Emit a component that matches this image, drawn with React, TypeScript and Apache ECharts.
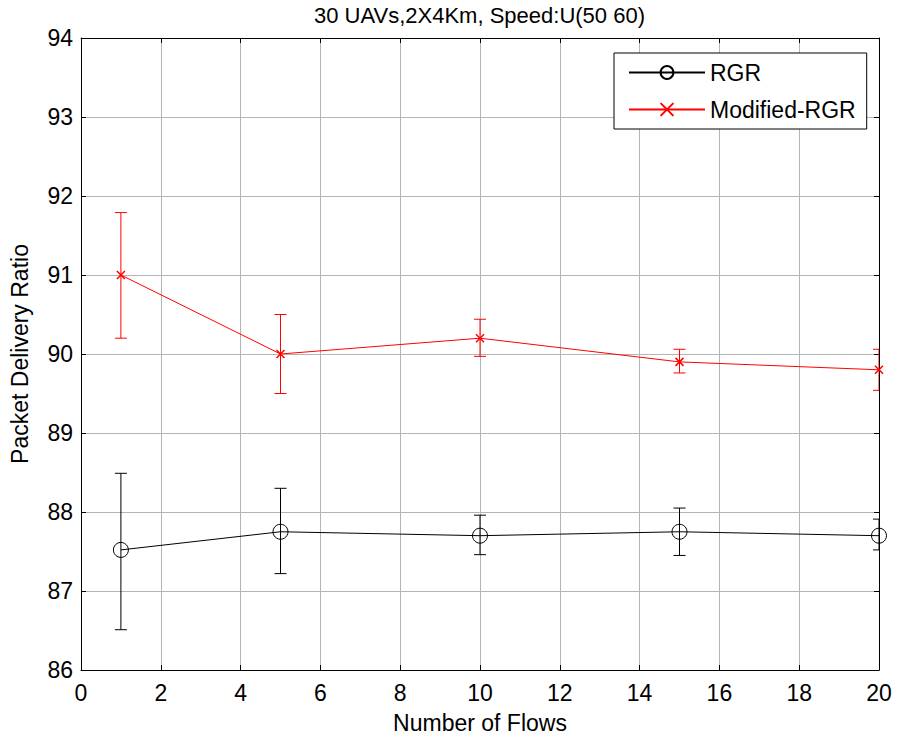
import React, { useEffect, useRef } from "react";
import * as echarts from "echarts";

const flows = [1, 5, 10, 15, 20];
const rgrMean = [87.52, 87.75, 87.7, 87.75, 87.7];
const rgrLow = [86.51, 87.22, 87.46, 87.45, 87.52];
const rgrHigh = [88.49, 88.3, 87.96, 88.05, 87.91];
const modMean = [91.0, 90.0, 90.2, 89.9, 89.8];
const modLow = [90.2, 89.5, 89.97, 89.76, 89.54];
const modHigh = [91.79, 90.5, 90.44, 90.06, 90.06];
const titleText = "30 UAVs,2X4Km, Speed:U(50 60)";

const FONT = "Liberation Sans, Arial, sans-serif";
const CROSS = "path://M0,0L10,10M10,0L0,10";

function errSeries(name: string, low: number[], high: number[], color: string) {
  return {
    type: "custom",
    name,
    clip: true,
    silent: true,
    z: 3,
    data: flows.map((x, i) => [x, low[i], high[i]]),
    renderItem: (params: any, api: any) => {
      const x = api.value(0);
      const lo = api.coord([x, api.value(1)]);
      const hi = api.coord([x, api.value(2)]);
      const w = 6;
      const st = { stroke: color, lineWidth: 1 };
      return {
        type: "group",
        children: [
          { type: "line", shape: { x1: hi[0], y1: hi[1], x2: lo[0], y2: lo[1] }, style: st },
          { type: "line", shape: { x1: hi[0] - w, y1: hi[1], x2: hi[0] + w, y2: hi[1] }, style: st },
          { type: "line", shape: { x1: lo[0] - w, y1: lo[1], x2: lo[0] + w, y2: lo[1] }, style: st },
        ],
      };
    },
  };
}

export default function App() {
  const ref = useRef<HTMLDivElement>(null);
  useEffect(() => {
    const chart = echarts.init(ref.current!, null, { renderer: "svg" });
    const gridColor = "#b4b4b4";
    chart.setOption({
      animation: false,
      backgroundColor: "#ffffff",
      graphic: [
        {
          type: "text",
          x: 479.5,
          y: 15,
          style: {
            text: titleText,
            fill: "#000",
            font: `22px ${FONT}`,
            textAlign: "center",
            textVerticalAlign: "middle",
          },
        },
      ],
      grid: { left: 80, right: 18, top: 38, bottom: 70 },
      legend: {
        orient: "vertical",
        left: 614,
        top: 53,
        data: ["RGR", "Modified-RGR"],
        itemWidth: 76,
        itemHeight: 16,
        itemGap: 14,
        padding: [8, 11, 8, 14],
        borderColor: "#000",
        borderWidth: 1,
        backgroundColor: "#fff",
        textStyle: { fontFamily: FONT, fontSize: 23, color: "#000", lineHeight: 23 },
      },
      xAxis: [
        {
          type: "value",
          min: 0,
          max: 20,
          interval: 2,
          name: "Number of Flows",
          nameLocation: "middle",
          nameGap: 41,
          nameTextStyle: { fontFamily: FONT, fontSize: 23, color: "#000" },
          axisLine: { show: true, onZero: false, lineStyle: { color: "#000", width: 1 } },
          axisTick: { show: true, inside: true, length: 5, lineStyle: { color: "#000" } },
          axisLabel: { fontFamily: FONT, fontSize: 23, color: "#000", margin: 11 },
          splitLine: { show: true, lineStyle: { color: gridColor, width: 1 } },
        },
        {
          type: "value",
          position: "top",
          min: 0,
          max: 20,
          interval: 2,
          axisLine: { show: true, onZero: false, lineStyle: { color: "#000", width: 1 } },
          axisTick: { show: true, inside: true, length: 5, lineStyle: { color: "#000" } },
          axisLabel: { show: false },
          splitLine: { show: false },
        },
      ],
      yAxis: [
        {
          type: "value",
          min: 86,
          max: 94,
          interval: 1,
          name: "Packet Delivery Ratio",
          nameLocation: "middle",
          nameGap: 50,
          nameTextStyle: { fontFamily: FONT, fontSize: 23, color: "#000" },
          axisLine: { show: true, onZero: false, lineStyle: { color: "#000", width: 1 } },
          axisTick: { show: true, inside: true, length: 5, lineStyle: { color: "#000" } },
          axisLabel: { fontFamily: FONT, fontSize: 23, color: "#000", margin: 8 },
          splitLine: { show: true, lineStyle: { color: gridColor, width: 1 } },
        },
        {
          type: "value",
          position: "right",
          min: 86,
          max: 94,
          interval: 1,
          axisLine: { show: true, onZero: false, lineStyle: { color: "#000", width: 1 } },
          axisTick: { show: true, inside: true, length: 5, lineStyle: { color: "#000" } },
          axisLabel: { show: false },
          splitLine: { show: false },
        },
      ],
      series: [
        {
          type: "line",
          name: "RGR",
          data: flows.map((x, i) => [x, rgrMean[i]]),
          symbol: "circle",
          symbolSize: 15,
          showAllSymbol: true,
          clip: false,
          z: 4,
          lineStyle: { color: "#000", width: 1 },
          itemStyle: { color: "rgba(0,0,0,0)", borderColor: "#000", borderWidth: 1 },
        },
        {
          type: "line",
          name: "Modified-RGR",
          data: flows.map((x, i) => [x, modMean[i]]),
          symbol: CROSS,
          symbolSize: 8,
          clip: false,
          z: 4,
          lineStyle: { color: "#ff0000", width: 1 },
          itemStyle: { color: "rgba(0,0,0,0)", borderColor: "#ff0000", borderWidth: 1.5 },
        },
        errSeries("rgrErr", rgrLow, rgrHigh, "#000"),
        errSeries("modErr", modLow, modHigh, "#ff0000"),
      ],
    });
    return () => chart.dispose();
  }, []);
  return <div ref={ref} style={{ width: 897, height: 740, position: "absolute", left: 0, top: 0 }} />;
}
